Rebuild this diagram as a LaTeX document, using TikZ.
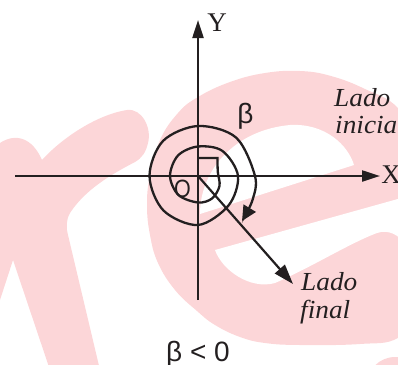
\documentclass[tikz,border=0pt]{standalone}
\usepackage{graphicx}
\usepackage{fontspec}
\setmainfont{Liberation Serif}
\newfontfamily\sansf{Liberation Sans}
\usetikzlibrary{arrows.meta}
\definecolor{wm}{RGB}{252,214,216}
\definecolor{ink}{RGB}{35,31,32}
\tikzset{
  axisline/.style={draw=ink, line width=2.2pt, -{Triangle[length=18pt,width=11pt]}},
  spiral/.style={draw=ink, line width=2.3pt, line join=miter, -{Triangle[length=15pt,width=14pt]}},
  termside/.style={draw=ink, line width=2.2pt, -{Triangle[length=20pt,width=13pt]}},
  axlab/.style={text=ink, inner sep=0pt, font=\fontsize{27}{27}\selectfont},
  itlab/.style={text=ink, inner sep=0pt, anchor=base west},
  sanslab/.style={text=ink, inner sep=0pt, font=\sansf\fontsize{28}{28}\selectfont},
}
\newcommand{\itlabtext}[1]{\scalebox{1.05}[1]{\fontsize{26}{26}\selectfont\itshape #1}}
\begin{document}
\begin{tikzpicture}[x=1pt,y=-1pt]
\useasboundingbox (0,0) rectangle (398,364);
% ---- watermark ----
% letter r
\fill[wm] (0,143) .. controls (15,133) and (32,137) .. (42,160)
  .. controls (60,140) and (95,115) .. (127,110)
  .. controls (142,108) and (152,128) .. (148,143)
  .. controls (146,152) and (142,158) .. (135,162)
  .. controls (110,175) and (85,190) .. (70,213)
  .. controls (66,220) and (66,228) .. (68,235)
  -- (100,370) -- (50,370) -- (13,260) -- (0,300) -- cycle;
% letter e
\fill[wm] plot[smooth cycle, tension=0.7] coordinates {(147,205) (150,175) (160,140) (178,113) (198,97) (230,82) (265,73) (300,71) (331,76) (365,89) (398,108) (425,150) (440,230) (425,310) (398,338) (360,344) (300,345) (265,343) (240,337) (215,325) (197,311) (175,290) (158,263) (150,235)};
\fill[white] (200,214) .. controls (200,170) and (235,130) .. (290,125)
  .. controls (325,123) and (348,145) .. (354,165) -- cycle;
\fill[white] (215,250) -- (405,197) -- (405,245)
  .. controls (400,235) and (388,229) .. (377,233)
  .. controls (350,243) and (310,268) .. (275,283)
  .. controls (250,290) and (222,270) .. (215,250) -- cycle;
\fill[wm] (395,385) circle[radius=28];
% ---- diagram ----
\coordinate (O) at (198,176);
\coordinate (xl) at (15,176);
\coordinate (xr) at (380,176);
\coordinate (yb) at (198,300);
\coordinate (yt) at (198,20);
\coordinate (tf) at (293,284);
\coordinate (sq) at (198,158);
\draw[axisline] (xl) -- (xr);
\draw[axisline] (yb) -- (yt);
\draw[termside] (O) -- (tf);
\draw[spiral] (sq) -- (217.5,158) -- plot[smooth, tension=0.55] coordinates {(217.5,158) (217.8,172) (219.5,186) (212,198.5) (198,202.5) (178.5,195) (170,176) (178,155.5) (198,146.5) (222.5,151) (238,176) (228.5,205.5) (198,225) (163.5,210.5) (149.5,176) (163,141) (198,126) (236,137.5) (255,176) (252.5,200) (242,221)};
% ---- labels ----
\node[axlab] (ylab) at (217,22.5) {Y};
\node[axlab] (xlab) at (391,174.5) {X};
\node[sanslab] (beta) at (245.5,116.5) {β};
\node[text=ink, inner sep=0pt] (olab) at (182.5,189) {\scalebox{0.86}[1]{\sansf\fontsize{25}{25}\selectfont O}};
\node[itlab] (li1) at (334,106) {\itlabtext{Lado}};
\node[itlab] (li2) at (335,133) {\itlabtext{inicia}};
\node[itlab] (lf1) at (301,290) {\itlabtext{Lado}};
\node[itlab] (lf2) at (300,318) {\itlabtext{final}};
\node[sanslab, anchor=base] (cond) at (198,361) {β < 0};
\end{tikzpicture}
\end{document}
